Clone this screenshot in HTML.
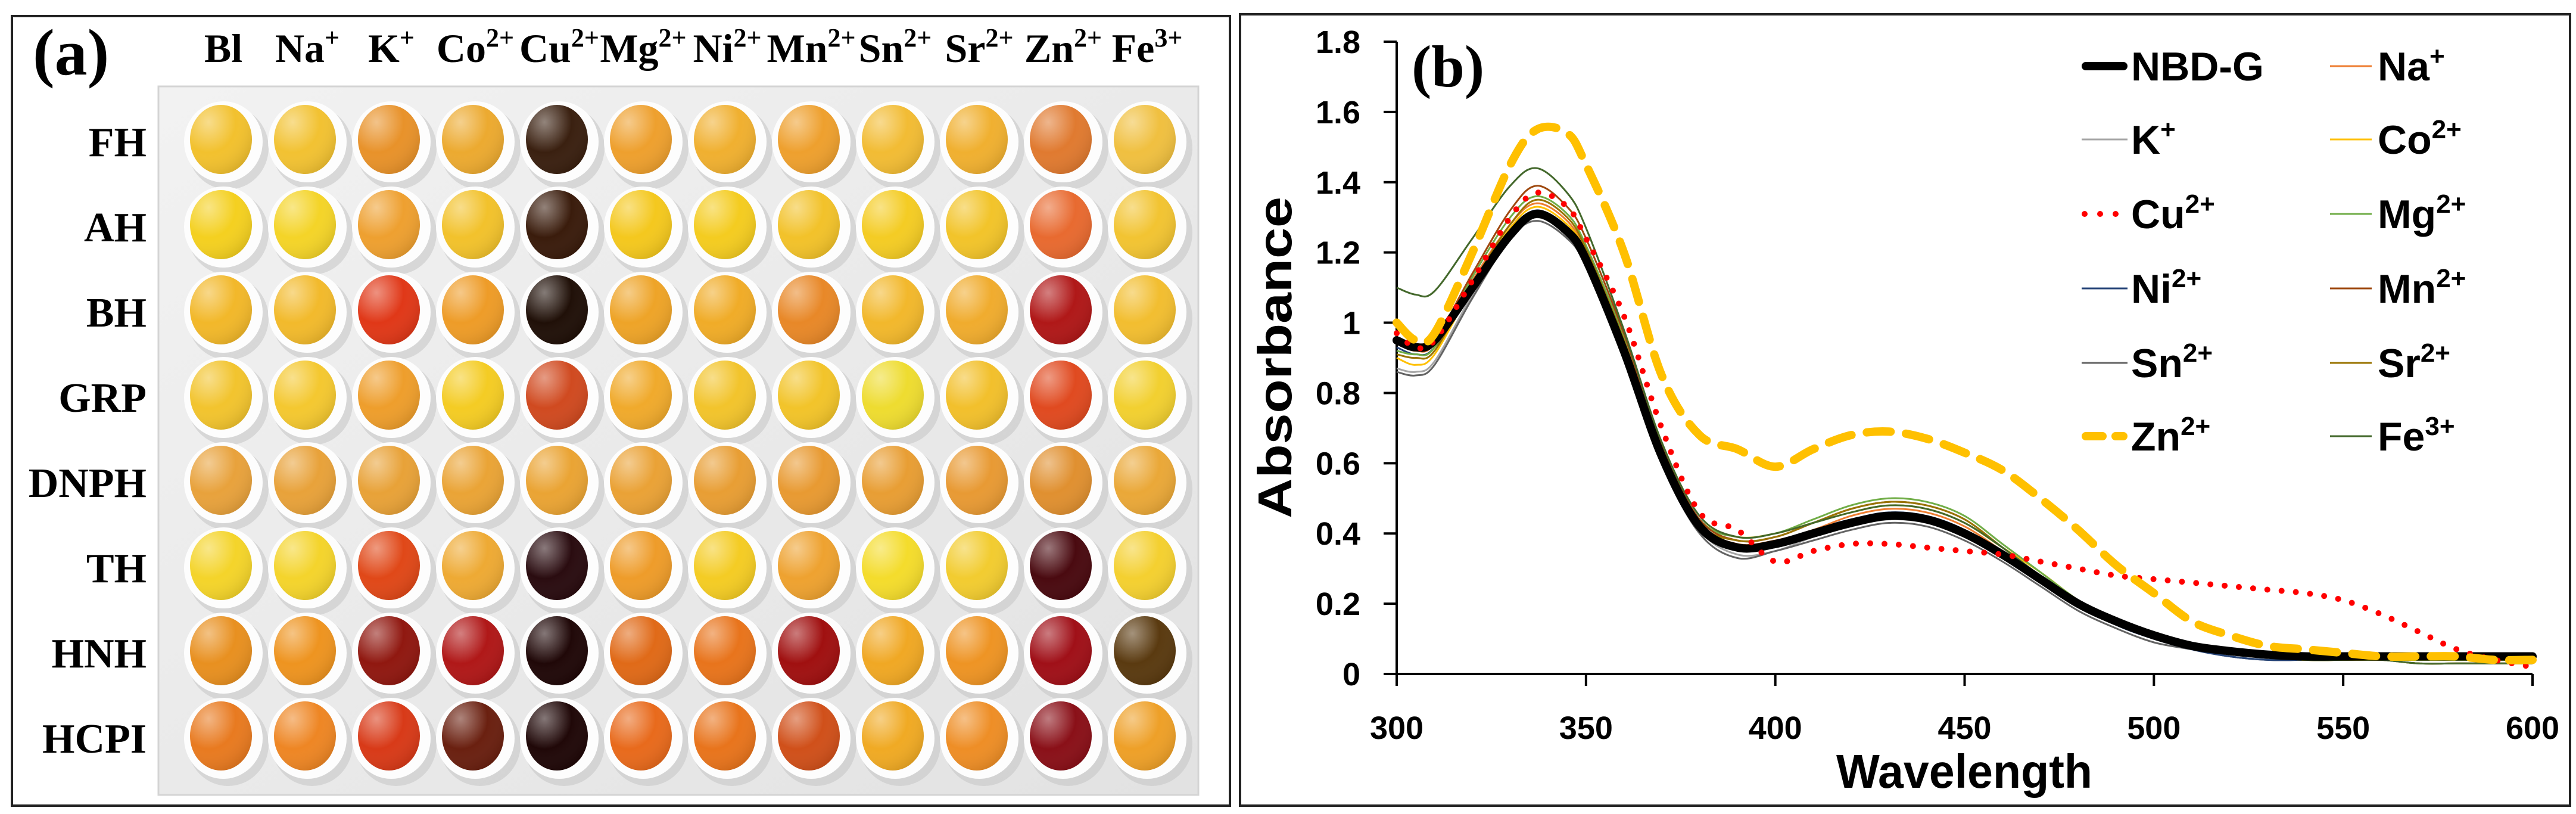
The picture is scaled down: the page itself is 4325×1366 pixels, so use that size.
<!DOCTYPE html>
<html><head><meta charset="utf-8"><style>
html,body{margin:0;padding:0;background:#fff;}
svg{display:block;}
.tnr{font-family:"Liberation Serif",serif;font-weight:bold;}
.cal{font-family:"Liberation Sans Narrow","Liberation Sans",sans-serif;font-weight:bold;}
.cal2{font-family:"Liberation Sans",sans-serif;font-weight:bold;}
</style></head><body>
<svg id="fig" width="4325" height="1366" viewBox="0 0 4325 1366" xmlns="http://www.w3.org/2000/svg">
<defs>
<radialGradient id="hl" cx="0.3" cy="0.25" r="0.8"><stop offset="0" stop-color="#fff" stop-opacity="0.45"/><stop offset="0.55" stop-color="#fff" stop-opacity="0"/><stop offset="1" stop-color="#000" stop-opacity="0.1"/></radialGradient>
<linearGradient id="plateg" x1="0" y1="0" x2="1" y2="1"><stop offset="0" stop-color="#f2f2f2"/><stop offset="1" stop-color="#e2e2e2"/></linearGradient>
</defs>
<g id="panelA">
<rect x="20" y="27" width="2045" height="1325" fill="#fff" stroke="#222" stroke-width="4"/>
<rect x="266" y="145" width="1746" height="1189" fill="url(#plateg)" stroke="#d4d4d4" stroke-width="3"/>
<text x="55" y="125" class="tnr" font-size="110">(a)</text>
<g id="wells"></g>
<g id="colLabels"></g>
<g id="rowLabels"></g>
</g>
<g id="panelB">
<rect x="2082" y="24" width="2233" height="1328" fill="#fff" stroke="#222" stroke-width="4"/>
<text x="2370" y="145" class="tnr" font-size="100">(b)</text>
<g id="axes"></g>
<g id="series"></g>
<g id="legend"></g>
<text class="cal2" font-size="80" text-anchor="middle" x="3298" y="1322" textLength="430" lengthAdjust="spacingAndGlyphs">Wavelength</text>
<text class="cal2" font-size="80" text-anchor="middle" textLength="540" lengthAdjust="spacingAndGlyphs" transform="translate(2168,600) rotate(-90)">Absorbance</text>
</g>
</svg>
<script>
const NS="http://www.w3.org/2000/svg";
// ---- panel (a) data ----
const colNames=[["Bl",""],["Na","+"],["K","+"],["Co","2+"],["Cu","2+"],["Mg","2+"],["Ni","2+"],["Mn","2+"],["Sn","2+"],["Sr","2+"],["Zn","2+"],["Fe","3+"]];
const rowNames=["FH","AH","BH","GRP","DNPH","TH","HNH","HCPI"];
const wellColors=[
["#F2C12E","#F2C232","#E8922A","#ECAA30","#3A2010","#EEA02E","#F0B030","#EEA02E","#F2BC34","#F0B030","#E07A30","#F0C040"],
["#F4D020","#F4D428","#EEA030","#F2C22C","#3A1C0C","#F4C81E","#F4CC20","#F2C22A","#F4CC24","#F2C42A","#E86A30","#F2C432"],
["#F2B82A","#F2BA2C","#E03818","#EE9C28","#201008","#EEA428","#F0AC28","#E88828","#F2B82C","#F0AC2E","#B01818","#F2BE30"],
["#F2C42E","#F4C830","#EE9E2C","#F4CC24","#D04A20","#F0AA2C","#F2C42C","#F2C42A","#EEDC30","#F2C02C","#E04A20","#F2D030"],
["#E8A23C","#E8A23A","#E8A238","#EAA436","#EAA434","#EAA236","#E89E34","#E89A32","#E89E34","#E89A34","#E09030","#EAA838"],
["#F4D42A","#F4D42C","#E04818","#EEAA34","#2A0C10","#EE9C2A","#F4CC24","#EEA230","#F4DC2C","#F2CC30","#4A0A10","#F4D030"],
["#E89020","#EE9420","#901810","#B01818","#200808","#E06A18","#E8741C","#A01010","#F0A824","#EE9424","#A01018","#5A3A10"],
["#E87A20","#EE8624","#D83A18","#6A2010","#200808","#E86A1C","#E8741C","#D0501A","#F0AA24","#EE8E26","#8A1018","#EEA028"]];
function mk(tag,attrs,parent){const e=document.createElementNS(NS,tag);for(const k in attrs)e.setAttribute(k,attrs[k]);parent.appendChild(e);return e;}
const wellsG=document.getElementById('wells');
const cx0=375,dx=141,cy0=238,dy=143;
for(let r=0;r<8;r++){for(let c=0;c<12;c++){
 const x=cx0+c*dx,y=cy0+r*dy;
 const g=mk('g',{},wellsG);
 
 
 mk('ellipse',{cx:x+8,cy:y+10,rx:68,ry:70,fill:'#c4c4c4',opacity:'0.55'},g);
 mk('ellipse',{cx:x,cy:y,rx:66,ry:68,fill:'#fdfdfd'},g);
 mk('ellipse',{cx:x-4,cy:y-4,rx:52,ry:58,fill:wellColors[r][c]},g);
 mk('ellipse',{cx:x-4,cy:y-4,rx:52,ry:58,fill:'url(#hl)'},g);
}}
const colG=document.getElementById('colLabels');
colNames.forEach((n,i)=>{
 const t=mk('text',{x:cx0+i*dx,y:104,'text-anchor':'middle','class':'tnr','font-size':'68'},colG);
 
 
 t.appendChild(document.createTextNode(n[0]));
 if(n[1]){const s=mk('tspan',{dy:'-26','font-size':'44'},t);s.textContent=n[1];}
});
const rowG=document.getElementById('rowLabels');
rowNames.forEach((n,i)=>{
 const t=mk('text',{x:246,y:cy0+i*dy+24,'text-anchor':'end','class':'tnr','font-size':'70'},rowG);
 
 
 t.textContent=n;
});
// ---- panel (b) data ----
const wavelengths=[300,305,310,320,330,337,345,350,360,370,380,390,400,410,420,430,440,450,460,470,480,490,500,510,520,530,540,550,560,570,580,590,600];
const xTicks=[300,350,400,450,500,550,600];
const yTicks=[0,0.2,0.4,0.6,0.8,1,1.2,1.4,1.6,1.8];
const yTickLabels=["0","0.2","0.4","0.6","0.8","1","1.2","1.4","1.6","1.8"];
const seriesNames=["NBD-G","Na","K","Co","Cu","Mg","Ni","Mn","Sn","Sr","Zn","Fe"];
const seriesSup=["","+","+","2+","2+","2+","2+","2+","2+","2+","2+","3+"];
const vNBD=[0.95,0.93,0.95,1.10,1.25,1.31,1.26,1.18,0.92,0.62,0.42,0.36,0.37,0.40,0.43,0.45,0.44,0.40,0.34,0.27,0.20,0.15,0.11,0.08,0.065,0.055,0.05,0.05,0.05,0.05,0.05,0.05,0.05];
const vNa=[0.94,0.92,0.94,1.12,1.28,1.34,1.29,1.20,0.94,0.63,0.43,0.37,0.38,0.41,0.45,0.47,0.46,0.42,0.35,0.28,0.21,0.15,0.11,0.08,0.06,0.05,0.04,0.04,0.04,0.04,0.04,0.04,0.04];
const vK=[0.87,0.86,0.89,1.08,1.25,1.30,1.25,1.17,0.91,0.61,0.41,0.34,0.35,0.39,0.42,0.44,0.43,0.39,0.33,0.26,0.19,0.14,0.10,0.07,0.05,0.04,0.04,0.04,0.04,0.04,0.04,0.04,0.04];
const vCo=[0.90,0.88,0.91,1.10,1.27,1.33,1.28,1.20,0.95,0.64,0.44,0.39,0.40,0.43,0.46,0.48,0.47,0.43,0.36,0.29,0.21,0.15,0.11,0.08,0.06,0.05,0.04,0.04,0.04,0.04,0.04,0.04,0.04];
const vCu=[0.97,0.93,0.95,1.12,1.30,1.37,1.33,1.24,1.02,0.70,0.46,0.41,0.32,0.35,0.37,0.37,0.36,0.35,0.34,0.32,0.30,0.28,0.27,0.26,0.25,0.24,0.23,0.21,0.17,0.12,0.07,0.04,0.02];
const vMg=[0.92,0.91,0.93,1.13,1.30,1.36,1.31,1.22,0.96,0.65,0.44,0.39,0.40,0.44,0.48,0.50,0.49,0.45,0.37,0.29,0.21,0.15,0.11,0.08,0.06,0.05,0.04,0.04,0.04,0.04,0.04,0.04,0.04];
const vNi=[0.93,0.91,0.93,1.10,1.26,1.32,1.27,1.19,0.93,0.62,0.42,0.36,0.37,0.41,0.44,0.46,0.45,0.41,0.34,0.27,0.20,0.14,0.10,0.07,0.05,0.04,0.04,0.04,0.04,0.04,0.04,0.04,0.04];
const vMn=[0.95,0.93,0.95,1.14,1.32,1.39,1.33,1.24,0.97,0.65,0.44,0.38,0.39,0.43,0.47,0.49,0.48,0.44,0.36,0.28,0.21,0.15,0.11,0.08,0.06,0.05,0.04,0.04,0.04,0.03,0.03,0.03,0.03];
const vSn=[0.86,0.85,0.88,1.07,1.24,1.29,1.24,1.16,0.90,0.60,0.40,0.33,0.35,0.38,0.41,0.43,0.42,0.38,0.32,0.25,0.18,0.13,0.09,0.07,0.05,0.04,0.04,0.04,0.04,0.04,0.04,0.04,0.04];
const vSr=[0.91,0.90,0.92,1.11,1.28,1.35,1.30,1.21,0.95,0.64,0.43,0.38,0.39,0.43,0.47,0.49,0.48,0.44,0.36,0.28,0.21,0.15,0.11,0.08,0.06,0.05,0.04,0.04,0.04,0.03,0.03,0.03,0.03];
const vZn=[1.00,0.95,0.97,1.20,1.45,1.55,1.54,1.45,1.20,0.85,0.68,0.64,0.59,0.64,0.68,0.69,0.67,0.63,0.58,0.50,0.41,0.31,0.23,0.15,0.11,0.08,0.07,0.06,0.05,0.05,0.05,0.04,0.04];
const vFe=[1.10,1.08,1.09,1.24,1.39,1.44,1.37,1.27,0.98,0.66,0.45,0.39,0.40,0.43,0.46,0.48,0.47,0.43,0.36,0.28,0.21,0.15,0.11,0.08,0.06,0.05,0.04,0.04,0.04,0.03,0.03,0.03,0.03];
const seriesValues=[vNBD,vNa,vK,vCo,vCu,vMg,vNi,vMn,vSn,vSr,vZn,vFe];
const colors=["#000000","#ED7D31","#A5A5A5","#FFC000","#FF0000","#70AD47","#264478","#9E480E","#636363","#997300","#FFC000","#43682B"];
const X0=2345,X1=4252,Y0=1131,Y1=70;
function xs(v){return X0+(v-300)/(600-300)*(X1-X0);}
function ys(v){return Y0-(v-0)/(1.8-0)*(Y0-Y1);}
function style(i){
 if(i===0)return {w:14,dash:null,cap:'round'};
 if(i===4)return {w:10,dash:'0 24',cap:'round'};
 if(i===10)return {w:14,dash:'40 26',cap:'round'};
 return {w:3,dash:null,cap:'butt'};
}
function smoothPath(pts){
 let d='M'+pts[0][0]+','+pts[0][1];
 for(let i=0;i<pts.length-1;i++){
  const p0=pts[Math.max(i-1,0)],p1=pts[i],p2=pts[i+1],p3=pts[Math.min(i+2,pts.length-1)];
  const c1=[p1[0]+(p2[0]-p0[0])/6,p1[1]+(p2[1]-p0[1])/6];
  const c2=[p2[0]-(p3[0]-p1[0])/6,p2[1]-(p3[1]-p1[1])/6];
  d+=' C'+c1[0].toFixed(1)+','+c1[1].toFixed(1)+' '+c2[0].toFixed(1)+','+c2[1].toFixed(1)+' '+p2[0].toFixed(1)+','+p2[1].toFixed(1);
 }
 return d;
}
const axes=document.getElementById('axes');
const ya=mk('line',{x1:X0,y1:Y1,x2:X0,y2:Y0,stroke:'#000','stroke-width':4},axes);


const xa=mk('line',{x1:X0,y1:Y0,x2:X1,y2:Y0,stroke:'#000','stroke-width':4},axes);


yTicks.forEach((v,i)=>{
 mk('line',{x1:X0-22,y1:ys(v),x2:X0,y2:ys(v),stroke:'#000','stroke-width':4},axes);
 const t=mk('text',{x:2284,y:ys(v)+19,'text-anchor':'end','class':'cal2','font-size':'54'},axes);
 
 
 t.textContent=yTickLabels[i];
});
xTicks.forEach(v=>{
 mk('line',{x1:xs(v),y1:Y0,x2:xs(v),y2:Y0+20,stroke:'#000','stroke-width':4},axes);
 const t=mk('text',{x:xs(v),y:1240,'text-anchor':'middle','class':'cal2','font-size':'54'},axes);
 
 
 t.textContent=String(v);
});
const sg=document.getElementById('series');
const order=[2,8,6,1,3,5,7,9,11,0,4,10];
order.forEach(i=>{
 const pts=wavelengths.map((w,k)=>[xs(w),ys(seriesValues[i][k])]);
 const st=style(i);
 const p=mk('path',{d:smoothPath(pts),fill:'none',stroke:colors[i],'stroke-width':st.w,'stroke-linecap':st.cap,'stroke-linejoin':'round'},sg);
 if(st.dash)p.setAttribute('stroke-dasharray',st.dash);
 
 
});
const lg=document.getElementById('legend');
const legRows=[111,234,359,484,609,732];
seriesNames.forEach((n,i)=>{
 const col=i%2,row=Math.floor(i/2);
 const lx=col===0?3495:3912,lx2=col===0?3572:3982,tx=col===0?3578:3992;
 const y=legRows[row];
 const g=mk('g',{},lg);
 
 
 const st=style(i);
 const l=mk('line',{x1:lx+(st.cap==='round'?st.w/2:0),y1:y,x2:lx2-(st.cap==='round'?st.w/2:0),y2:y,stroke:colors[i],'stroke-width':st.w,'stroke-linecap':st.cap},g);
 if(i===4)l.setAttribute('stroke-dasharray','0 26');
 if(i===10)l.setAttribute('stroke-dasharray','28 22');
 const t=mk('text',{x:tx,y:y+24,'class':'cal','font-size':'68'},g);
 t.appendChild(document.createTextNode(n));
 if(seriesSup[i]){const s=mk('tspan',{dy:'-26','font-size':'44'},t);s.textContent=seriesSup[i];}
});
</script>
</body></html>
